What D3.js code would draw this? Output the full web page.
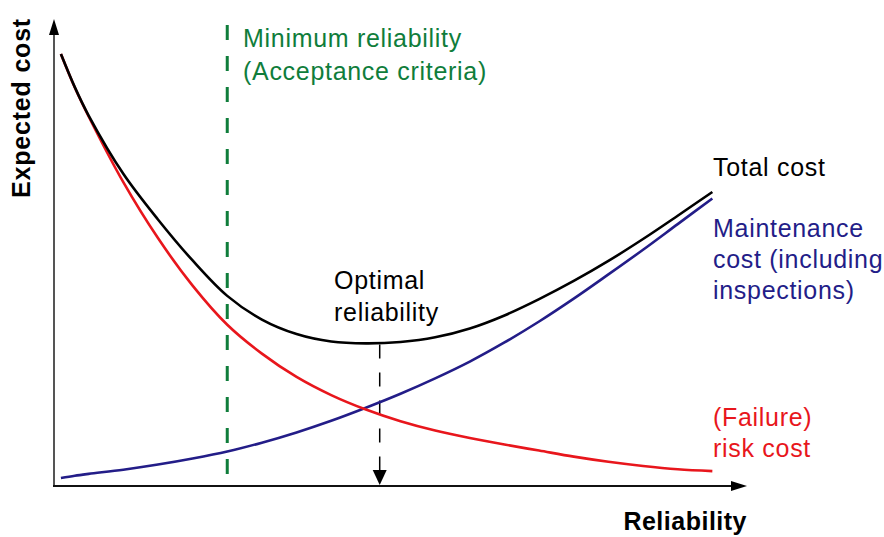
<!DOCTYPE html>
<html>
<head>
<meta charset="utf-8">
<script src="https://cdn.jsdelivr.net/npm/d3@7"></script>
<style>
  html, body { margin: 0; padding: 0; background: #fff; }
  svg { display: block; }
  text { font-family: "Liberation Sans", Arial, Helvetica, sans-serif; }
</style>
</head>
<body>
<svg id="chart" width="884" height="537"></svg>
<script>
// Reliability (abstract 0-100 units)
const reliability = [1, 3, 5, 10, 15, 20, 25, 30, 35, 40, 45, 50, 55, 60, 65, 70, 75, 80, 85, 90, 95];
// Expected cost (abstract 0-100 units)
const totalCost = [92.7, 85.6, 79.5, 67.0, 57.2, 48.4, 40.8, 35.7, 32.6, 31.0, 30.6, 30.9, 31.9, 33.8, 36.6, 40.1, 44.0, 48.3, 53.0, 58.0, 63.1];
const riskCost = [92.7, 85.5, 79.3, 65.2, 53.2, 43.0, 34.6, 28.4, 23.4, 19.5, 16.4, 13.9, 11.9, 10.3, 8.9, 7.6, 6.3, 5.2, 4.3, 3.6, 3.2];
const maintenanceCost = [1.7, 2.2, 2.6, 3.5, 4.6, 5.9, 7.4, 9.3, 11.5, 14.0, 16.8, 19.8, 23.1, 26.7, 30.8, 35.3, 40.2, 45.4, 50.7, 56.2, 61.7];
const minimumReliability = 25;
const optimalReliability = 47;
const optimalCost = 30.6;

const labelMinimum = ["Minimum reliability", "(Acceptance criteria)"];
const labelTotal = ["Total cost"];
const labelMaintenance = ["Maintenance", "cost (including", "inspections)"];
const labelRisk = ["(Failure)", "risk cost"];
const labelOptimal = ["Optimal", "reliability"];
const xTitle = "Reliability";
const yTitle = "Expected cost";

const svg = d3.select("#chart");
const x = d3.scaleLinear().domain([0, 100]).range([54, 747]);
const y = d3.scaleLinear().domain([0, 100]).range([486, 20]);

const colors = { total: "#000000", risk: "#e8161c", maint: "#231d88", green: "#0f7d3b" };

// green dashed minimum reliability line
svg.append("line")
  .attr("x1", x(minimumReliability)).attr("x2", x(minimumReliability))
  .attr("y1", 25).attr("y2", y(0))
  .attr("stroke", colors.green).attr("stroke-width", 3)
  .attr("stroke-dasharray", "15,16");

// optimal dashed line
svg.append("line")
  .attr("x1", x(optimalReliability)).attr("x2", x(optimalReliability))
  .attr("y1", y(optimalCost) + 1).attr("y2", 470)
  .attr("stroke", "#000").attr("stroke-width", 1.5)
  .attr("stroke-dasharray", "14,14");
{
  const cx = x(optimalReliability);
  svg.append("path")
    .attr("d", `M${cx - 7},470 L${cx + 7},470 L${cx},485 Z`)
    .attr("fill", "#000");
}

// curves
const line = (vals) => d3.line()
  .x((d, i) => x(reliability[i]))
  .y(d => y(d))
  .curve(d3.curveCatmullRom.alpha(0.5))(vals);

svg.append("path").attr("d", line(maintenanceCost)).attr("fill", "none")
  .attr("stroke", colors.maint).attr("stroke-width", 2.6);
svg.append("path").attr("d", line(riskCost)).attr("fill", "none")
  .attr("stroke", colors.risk).attr("stroke-width", 2.6);
svg.append("path").attr("d", line(totalCost)).attr("fill", "none")
  .attr("stroke", colors.total).attr("stroke-width", 2.6);

// axes
svg.append("line").attr("x1", x(0)).attr("x2", x(0)).attr("y1", y(0) + 1).attr("y2", 34)
  .attr("stroke", "#555").attr("stroke-width", 2);
svg.append("path").attr("d", `M${x(0) - 5},35 L${x(0) + 5},35 L${x(0)},19 Z`).attr("fill", "#000");
svg.append("line").attr("x1", x(0) - 1).attr("x2", 732).attr("y1", y(0)).attr("y2", y(0))
  .attr("stroke", "#111").attr("stroke-width", 2);
svg.append("path").attr("d", `M731,${y(0) - 5} L731,${y(0) + 5} L747,${y(0)} Z`).attr("fill", "#000");

// labels
function multiline(lines, xPos, y0, dy, color) {
  const t = svg.append("text").attr("x", xPos).attr("y", y0)
    .attr("fill", color).attr("font-size", 25).style("letter-spacing", "0.7px");
  lines.forEach((s, i) => {
    t.append("tspan").attr("x", xPos).attr("y", y0 + i * dy).text(s);
  });
}
multiline(labelMinimum, 243, 47, 33, colors.green);
multiline(labelTotal, 713, 176, 31, colors.total);
multiline(labelMaintenance, 713, 237, 31, colors.maint);
multiline(labelRisk, 713, 426, 31, colors.risk);
multiline(labelOptimal, 334, 289, 32, "#000");

svg.append("text").attr("x", 747).attr("y", 530).attr("text-anchor", "end")
  .attr("font-size", 25).attr("font-weight", "bold").style("letter-spacing", "0.5px")
  .text(xTitle);
svg.append("text").attr("transform", "translate(30,18) rotate(-90)").attr("text-anchor", "end")
  .attr("font-size", 25).attr("font-weight", "bold").style("letter-spacing", "0.8px")
  .text(yTitle);
</script>
</body>
</html>
